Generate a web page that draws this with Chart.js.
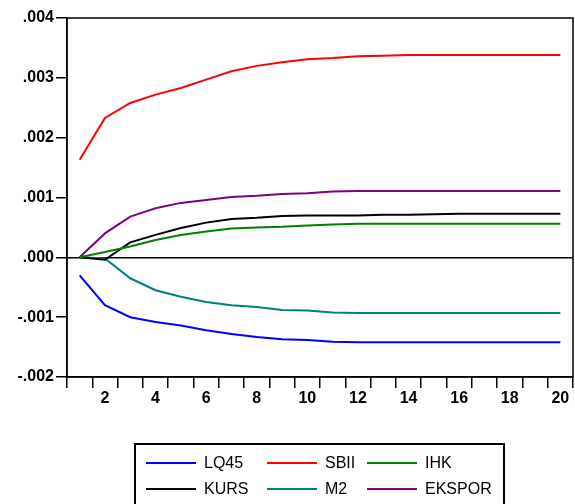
<!DOCTYPE html>
<html>
<head>
<meta charset="utf-8">
<script src="https://cdn.jsdelivr.net/npm/chart.js@4/dist/chart.umd.min.js"></script>
<style>
  body { margin: 0; background: #fff; }
  #wrap { position: relative; width: 575px; height: 504px; overflow: hidden; }
  #chart { position: absolute; left: 0; top: 0; }
  #legend {
    position: absolute; left: 134px; top: 443px; width: 371px; height: 64px;
    border: 2px solid #000; box-sizing: border-box;
    font: 16px "Liberation Sans", Arial, sans-serif; color: #000;
  }
  .item { position: absolute; height: 20px; line-height: 20px; white-space: nowrap; }
  .item span.swatch { position: absolute; left: 0; top: 9px; width: 50px; height: 2px; }
  .item span.txt { position: absolute; left: 58px; top: 0; }
</style>
</head>
<body>
<div id="wrap">
  <canvas id="chart" width="575" height="504"></canvas>
  <div id="legend"></div>
</div>
<script>
// response periods
const periods = [1,2,3,4,5,6,7,8,9,10,11,12,13,14,15,16,17,18,19,20];

// series
const lq45   = [-0.00030,-0.00080,-0.00100,-0.00108,-0.00114,-0.00122,-0.00128,-0.00133,-0.00137,-0.00138,-0.00141,-0.00142,-0.00142,-0.00142,-0.00142,-0.00142,-0.00142,-0.00142,-0.00142,-0.00142];
const sbii   = [0.00163,0.00233,0.00258,0.00272,0.00283,0.00297,0.00311,0.00320,0.00326,0.00331,0.00333,0.00336,0.00337,0.00338,0.00338,0.00338,0.00338,0.00338,0.00338,0.00338];
const ihk    = [0,0.00009,0.00018,0.00029,0.000375,0.00043,0.00048,0.00050,0.00051,0.00053,0.00055,0.00056,0.00056,0.00056,0.00056,0.00056,0.00056,0.00056,0.00056,0.00056];
const kurs   = [0,-0.00004,0.00025,0.000375,0.00049,0.00058,0.00064,0.00066,0.00069,0.00070,0.00070,0.00070,0.00071,0.00071,0.00072,0.00073,0.00073,0.00073,0.00073,0.00073];
const m2     = [0,-0.00002,-0.00035,-0.00055,-0.00066,-0.000745,-0.00080,-0.00083,-0.00088,-0.00089,-0.00092,-0.00093,-0.00093,-0.00093,-0.00093,-0.00093,-0.00093,-0.00093,-0.00093,-0.00093];
const ekspor = [0,0.00040,0.00068,0.00082,0.00091,0.00096,0.00101,0.00103,0.00106,0.00107,0.00110,0.00111,0.00111,0.00111,0.00111,0.00111,0.00111,0.00111,0.00111,0.00111];

const seriesNames = ['LQ45','SBII','IHK','KURS','M2','EKSPOR'];
const seriesColors = ['#0000ff','#ff0000','#008000','#000000','#008080','#800080'];
const seriesData = [lq45, sbii, ihk, kurs, m2, ekspor];

// y tick labels, top to bottom
const yTicks = [0.004,0.003,0.002,0.001,0,-0.001,-0.002];
const yTickLabels = ['.004','.003','.002','.001','.000','-.001','-.002'];

const tickFont = { family: '"Liberation Sans", Arial, sans-serif', size: 16, weight: 'bold' };

const frame = {
  id: 'frame',
  afterDraw(chart){
    const {ctx, chartArea: a} = chart;
    ctx.save();
    ctx.strokeStyle = '#000';
    ctx.lineWidth = 1.5;
    ctx.strokeRect(a.left, a.top, a.right - a.left, a.bottom - a.top);
    ctx.restore();
  }
};

const chart = new Chart(document.getElementById('chart'), {
  type: 'line',
  data: {
    labels: periods,
    datasets: seriesNames.map((n, i) => ({
      label: n,
      data: seriesData[i],
      borderColor: seriesColors[i],
      borderWidth: 2,
      pointRadius: 0,
      tension: 0,
      fill: false
    }))
  },
  options: {
    responsive: false,
    animation: false,
    layout: { padding: { top: 18, right: 2, left: 0, bottom: 0 } },
    plugins: { legend: { display: false }, tooltip: { enabled: false } },
    scales: {
      x: {
        type: 'category',
        offset: true,
        grid: { offset: true, drawOnChartArea: false, drawTicks: true, tickLength: 11, tickColor: '#000', lineWidth: 1.5 },
        border: { display: true, color: '#000', width: 1.5 },
        ticks: {
          autoSkip: false, maxRotation: 0, color: '#000', font: tickFont, padding: 1,
          callback: (v, i) => periods[i] % 2 === 0 ? String(periods[i]) : ''
        },
        afterFit: s => { s.height = 127; }
      },
      y: {
        min: -0.002, max: 0.004,
        afterBuildTicks: s => { s.ticks = yTicks.map(v => ({ value: v })); },
        grid: {
          drawOnChartArea: true, drawTicks: true, tickLength: 11, tickColor: '#000', lineWidth: 1.5,
          color: c => (c.tick && Math.abs(c.tick.value) < 1e-9) ? '#000' : 'rgba(0,0,0,0)'
        },
        border: { display: true, color: '#000', width: 1.5 },
        ticks: {
          color: '#000', font: tickFont, padding: 2,
          callback: v => yTickLabels[yTicks.findIndex(t => Math.abs(t - v) < 1e-9)]
        },
        afterFit: s => { s.width = 67; }
      }
    }
  },
  plugins: [frame]
});

// legend box, 2 rows x 3 columns like the reference
const legend = document.getElementById('legend');
const colX = [10, 131, 231];
const rowY = [8, 34];
const order = [0, 1, 2, 3, 4, 5]; // LQ45 SBII IHK / KURS M2 EKSPOR
order.forEach((k, j) => {
  const it = document.createElement('div');
  it.className = 'item';
  it.style.left = colX[j % 3] + 'px';
  it.style.top = rowY[Math.floor(j / 3)] + 'px';
  it.innerHTML = `<span class="swatch" style="background:${seriesColors[k]}"></span><span class="txt">${seriesNames[k]}</span>`;
  legend.append(it);
});
</script>
</body>
</html>
